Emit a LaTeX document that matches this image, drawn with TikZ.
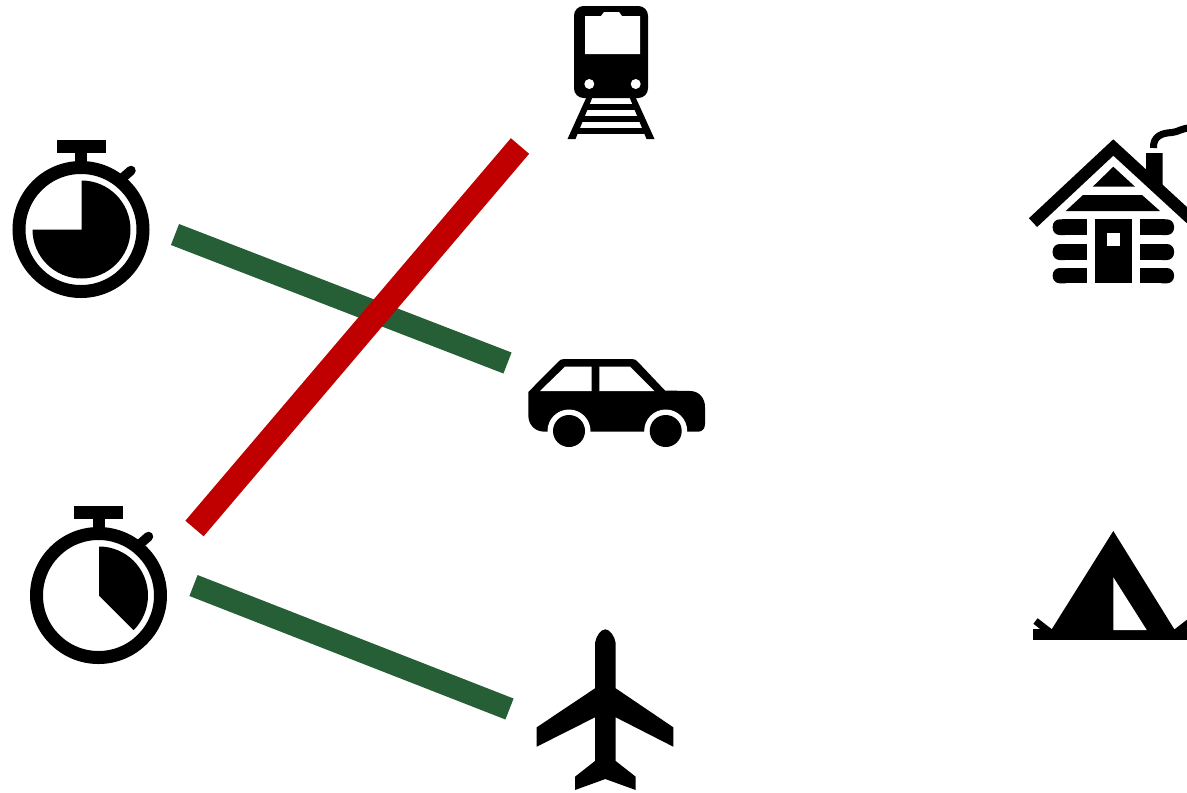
\documentclass[tikz,border=0pt]{standalone}
\begin{document}
\begin{tikzpicture}[x=0.02cm, y=-0.02cm,
    icon/.style={fill=black, draw=none},
    hole/.style={fill=white, draw=none},
    fast/.style={line width=0.45cm, draw=fastgreen},
    slow/.style={line width=0.48cm, draw=slowred}]
  \definecolor{fastgreen}{HTML}{265E36}
  \definecolor{slowred}{HTML}{C00000}
  \useasboundingbox (0,0) rectangle (1187,792);
  \clip (0,0) rectangle (1187,792);
  % stopwatches
  \foreach \cx/\cy/\wstart/\wend in {81/229.5/180/-90, 98.5/595.5/-90/45}{
    \begin{scope}[shift={(\cx,\cy)}]
      \draw[line width=0.26cm] (0,0) circle (62);
      \fill[icon] (-24.5,-89.5) rectangle (24.5,-77);
      \fill[icon] (-6,-78) rectangle (6,-62);
      \draw[line width=0.19cm, line cap=round] (42,-52) -- (50,-59);
      \fill[icon] (0.5,0) -- ++(\wstart:49) arc (\wstart:\wend:49) -- cycle;
    \end{scope}
  }
  % train
  \fill[icon, rounded corners=5.5pt] (574,6) rectangle (648,98);
  \fill[hole] (585,54) -- (585,16) -- (601,16) -- (604,12) -- (619,12) -- (622,16)
    -- (640,16) -- (640,54) -- cycle;
  \fill[hole] (589.3,84) circle (5) (635.7,84) circle (5);
  \fill[icon] (587,96) -- (593,96) -- (575.5,139) -- (567.5,139) -- cycle;
  \fill[icon] (635,96) -- (629,96) -- (646.5,139) -- (654.5,139) -- cycle;
  \foreach \xl/\ya/\yb in {586/103.5/109.5, 580.5/115.5/121.5, 575/127.5/133.5}{
    \fill[icon] (\xl,\ya) rectangle (1222-\xl,\yb);
  }
  % car
  \fill[icon] (545,431.7) .. controls (535,431.7) and (528.3,425) .. (528.3,415)
    -- (528.3,392) -- (558,362) .. controls (560,360) and (561,359) .. (564,359)
    -- (632,359) .. controls (635,359) and (636,360) .. (638,362)
    -- (665,390.5) -- (690,391) .. controls (699,391) and (705,398) .. (705,407)
    -- (705,424) .. controls (705,429) and (702,431.7) .. (698,431.7) -- cycle;
  \fill[hole] (540,391) -- (565,366.7) -- (591.7,366.7) -- (591.7,391) -- cycle;
  \fill[hole] (599.3,366.7) -- (630,366.7) -- (654.3,391) -- (599.3,391) -- cycle;
  \foreach \cx in {569,665.7}{
    \fill[hole] (\cx,431) circle (21.5);
    \fill[icon] (\cx,431) circle (16);
  }
  % plane
  \fill[icon] (595,643) .. controls (596,636) and (601,629.3) .. (605.3,629.3)
    .. controls (609.6,629.3) and (614.7,636) .. (615.7,643)
    -- (615.7,688.3) -- (673.3,727.3) -- (673.3,746.7) -- (615.7,717.3)
    -- (615.7,761) -- (635.7,776.7) -- (635.7,790) -- (605.3,779)
    -- (575,790) -- (575,776.7) -- (595,761) -- (595,717.3)
    -- (536.7,746.7) -- (536.7,727.3) -- (595,688.3) -- cycle;
  % cabin
  \draw[line width=0.24cm] (1033,222.6) -- (1113.3,147.5) -- (1195,222.6);
  \fill[icon] (1146,153) -- (1162.7,153) -- (1162.7,195) -- (1146,180) -- cycle;
  \draw[line width=0.14cm] (1153.5,148) .. controls (1153,136) and (1162,133) .. (1172,132.5)
    .. controls (1178,132) and (1182,128) .. (1190,128);
  \fill[icon] (1113.3,166.7) -- (1135,186.7) -- (1092.7,186.7) -- cycle;
  \fill[icon] (1083,195) -- (1142,195) -- (1160,211) -- (1065.7,211) -- cycle;
  \foreach \ya/\yb in {219.3/235, 244/260, 268/283.3}{
    \fill[icon, rounded corners=4pt] (1052.7,\ya) rectangle (1072,\yb);
    \fill[icon] (1062,\ya) rectangle (1087.3,\yb);
    \fill[icon, rounded corners=4pt] (1155,\ya) rectangle (1174,\yb);
    \fill[icon] (1140,\ya) rectangle (1165,\yb);
  }
  \fill[icon] (1095,219) rectangle (1131.7,283.3);
  \fill[hole] (1107.3,233.3) rectangle (1120,246);
  % tent
  \fill[icon] (1113.3,531) -- (1176,632) -- (1050,632) -- cycle;
  \fill[icon] (1032.7,629.3) rectangle (1187,640);
  \draw[line width=0.14cm] (1035.5,621) -- (1051,633);
  \draw[line width=0.14cm] (1191,621) -- (1175.5,633);
  \fill[hole] (1113.3,577.3) -- (1146.7,630) -- (1113.3,630) -- cycle;
  % links
  \coordinate (quickA) at (175,234.5);
  \coordinate (quickB) at (193.5,585.5);
  \coordinate (slowB) at (194.5,528.5);
  \coordinate (train) at (520,146);
  \coordinate (car) at (507.5,363);
  \coordinate (plane) at (509.5,709);
  \draw[fast] (quickA) -- (car);
  \draw[fast] (quickB) -- (plane);
  \draw[slow] (slowB) -- (train);
\end{tikzpicture}
\end{document}
